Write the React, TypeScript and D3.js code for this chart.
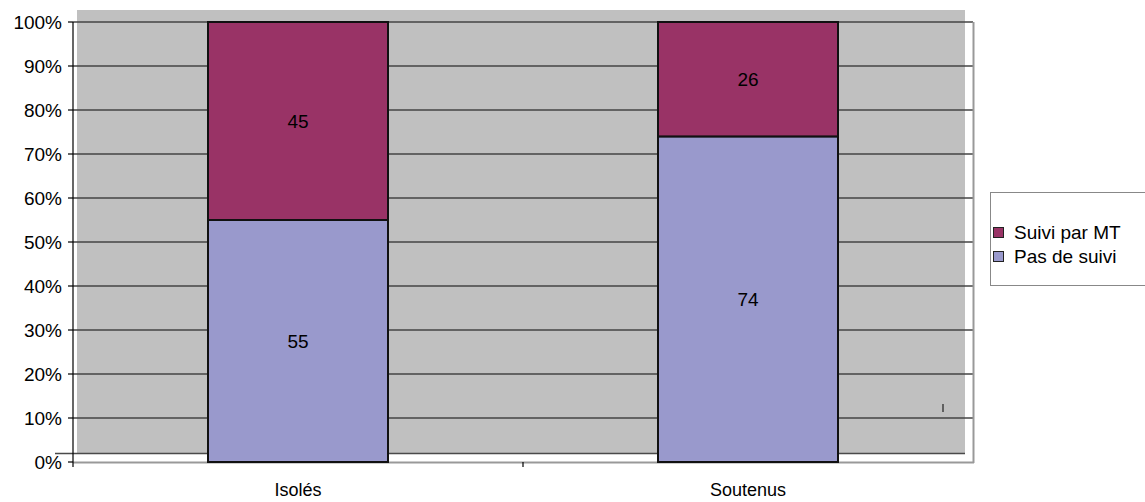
import React from "react";
import * as d3 from "d3";

const categories = ["Isolés", "Soutenus"];
const pasDeSuivi = [55, 74];
const suiviParMT = [45, 26];
const yTicks = [0, 10, 20, 30, 40, 50, 60, 70, 80, 90, 100];
const seriesNames = ["Suivi par MT", "Pas de suivi"];
const colors = { suivi: "#993366", pas: "#9999CC" };

export default function App() {
  const W = 1145, H = 502;
  const left = 73, right = 973, top = 22, bottom = 462;
  const y = d3.scaleLinear().domain([0, 100]).range([bottom, top]);
  const x = d3.scaleBand<string>().domain(categories).range([left, right]).paddingInner(0.6).paddingOuter(0.3);
  const xOuter = d3.scaleBand<string>().domain(categories).range([left, right]);
  const font = "'Liberation Sans', Arial, sans-serif";
  const fs = 19;

  return (
    <svg width={W} height={H} style={{ position: "absolute", left: 0, top: 0, background: "#fff" }} fontFamily={font}>
      {/* back wall */}
      <rect x={77} y={10} width={888} height={444} fill="#C0C0C0" />
      {/* floor back edge */}
      <line x1={55} x2={965} y1={453.5} y2={453.5} stroke="#4a4a4a" strokeWidth={1.5} />
      {/* gridlines */}
      {yTicks.slice(1).map((t) => (
        <line key={t} x1={left} x2={right} y1={y(t)} y2={y(t)} stroke="#444" strokeWidth={1.5} />
      ))}
      {/* floor front edge */}
      <line x1={left} x2={right + 1} y1={bottom + 0.5} y2={bottom + 0.5} stroke="#999" strokeWidth={2} />
      {/* right side edge */}
      <line x1={right + 0.5} x2={right + 0.5} y1={top} y2={bottom + 1} stroke="#999" strokeWidth={2} />
      {/* bars */}
      {categories.map((c, i) => {
        const bx = x(c)!;
        const bw = x.bandwidth();
        return (
          <g key={c}>
            <rect x={bx} y={y(pasDeSuivi[i])} width={bw} height={y(0) - y(pasDeSuivi[i])} fill={colors.pas} stroke="#111" strokeWidth={2} />
            <rect x={bx} y={y(100)} width={bw} height={y(pasDeSuivi[i]) - y(100)} fill={colors.suivi} stroke="#111" strokeWidth={2} />
            <text x={bx + bw / 2} y={y(pasDeSuivi[i] / 2)} dy="0.35em" textAnchor="middle" fontSize={fs} fill="#000">{pasDeSuivi[i]}</text>
            <text x={bx + bw / 2} y={y(pasDeSuivi[i] + suiviParMT[i] / 2)} dy="0.35em" textAnchor="middle" fontSize={fs} fill="#000">{suiviParMT[i]}</text>
          </g>
        );
      })}
      {/* y axis */}
      <line x1={left} x2={left} y1={top} y2={bottom + 5} stroke="#000" strokeWidth={1.2} />
      {yTicks.map((t) => (
        <g key={t}>
          <line x1={left - 5} x2={left} y1={y(t)} y2={y(t)} stroke="#000" strokeWidth={1.2} />
          <text x={62} y={y(t)} dy="0.35em" textAnchor="end" fontSize={fs} fill="#000">{t}%</text>
        </g>
      ))}
      {/* x axis ticks and labels */}
      {categories.map((c, i) => (
        <g key={c}>
          {i > 0 && <line x1={xOuter(c)!} x2={xOuter(c)!} y1={bottom} y2={bottom + 5} stroke="#000" strokeWidth={1.2} />}
          <text x={xOuter(c)! + xOuter.bandwidth() / 2} y={490} dy="0.35em" textAnchor="middle" fontSize={18} fill="#000">{c}</text>
        </g>
      ))}
      <line x1={943} x2={943} y1={404} y2={412} stroke="#000" strokeWidth={1} />
      {/* legend */}
      <rect x={990.5} y={192.5} width={160} height={93} fill="#fff" stroke="#888" strokeWidth={1} />
      {seriesNames.map((s, i) => (
        <g key={s}>
          <rect x={993.5} y={227.5 + i * 24} width={10} height={10} fill={i === 0 ? colors.suivi : colors.pas} stroke="#222" strokeWidth={1} />
          <text x={1014} y={232 + i * 24} dy="0.35em" fontSize={fs} fill="#000">{s}</text>
        </g>
      ))}
    </svg>
  );
}
